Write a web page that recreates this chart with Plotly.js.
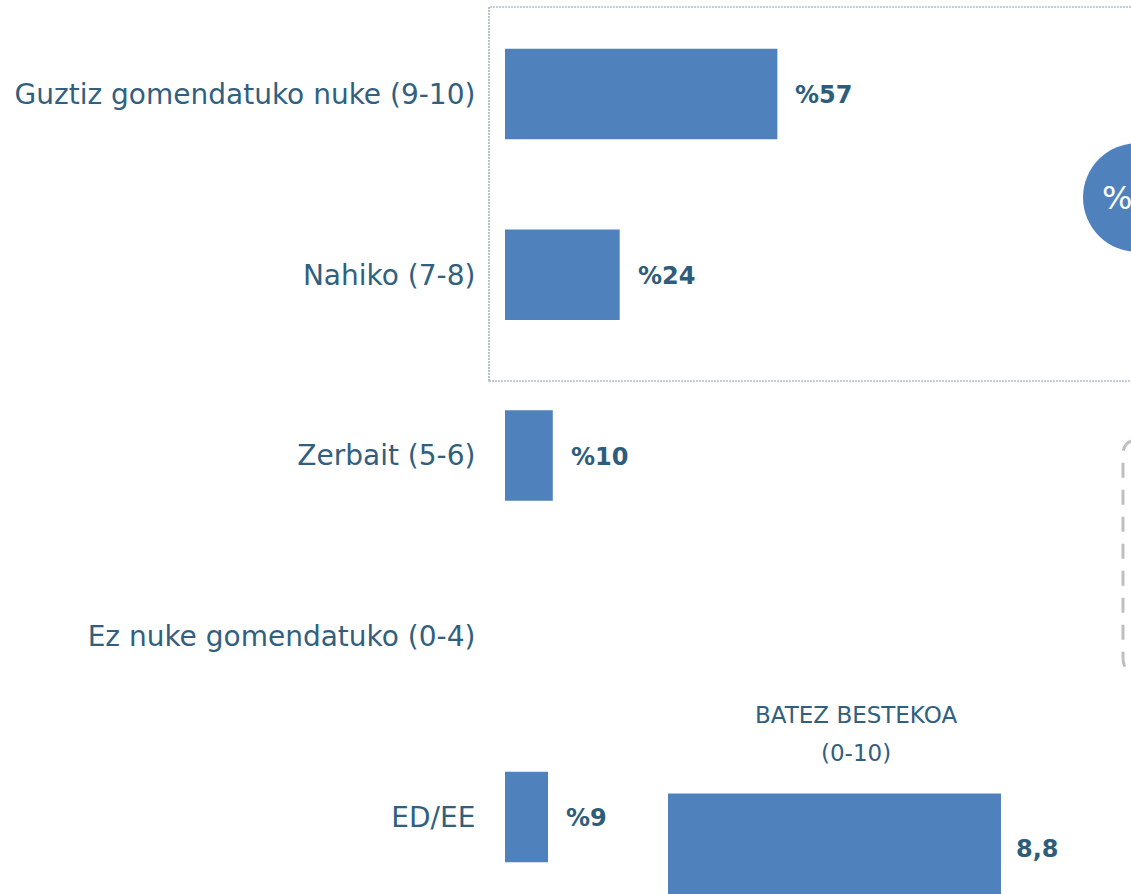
<!DOCTYPE html>
<html>
<head>
<meta charset="utf-8">
<script src="https://cdn.plot.ly/plotly-3.0.1.min.js"></script>
<style>html,body{margin:0;padding:0;background:#fff;overflow:hidden}#chart{width:1131px;height:894px}</style>
</head>
<body>
<div id="chart"></div>
<script>
const categories = ["Guztiz gomendatuko nuke (9-10)", "Nahiko (7-8)", "Zerbait (5-6)", "Ez nuke gomendatuko (0-4)", "ED/EE"];
const values = [57, 24, 10, 0, 9];
const valueLabels = ["%57", "%24", "%10", "", "%9"];
const meanCaption = ["BATEZ BESTEKOA", "(0-10)"];
const meanValue = [8.8];
const meanLabel = ["8,8"];
const topBoxLabel = "%81";

const BLUE = "#4F81BD";
const TEXT = "#31607F";
const VAL = "#2D5D7B";
const FONT = "DejaVu Sans, sans-serif";

const traces = [
  {
    type: "bar", orientation: "h",
    x: values, y: categories,
    marker: {color: BLUE},
    width: 0.5,
    hoverinfo: "skip",
    xaxis: "x", yaxis: "y"
  },
  {
    type: "bar", orientation: "h",
    x: meanValue, y: [0],
    marker: {color: BLUE},
    width: 0.5,
    hoverinfo: "skip",
    xaxis: "x2", yaxis: "y2"
  }
];

const annotations = [];
values.forEach((v, i) => {
  if (valueLabels[i]) {
    annotations.push({
      x: v, y: categories[i], xref: "x", yref: "y",
      text: valueLabels[i], showarrow: false,
      xanchor: "left", yanchor: "middle", xshift: 16, yshift: -1,
      font: {family: FONT, size: 24, color: VAL, weight: "bold"}
    });
  }
});
annotations.push({
  x: meanValue[0], y: 0, xref: "x2", yref: "y2",
  text: meanLabel[0], showarrow: false,
  xanchor: "left", yanchor: "middle", xshift: 13,
  font: {family: FONT, size: 24, color: VAL, weight: "bold"}
});
const captionY = [715, 753];
meanCaption.forEach((t, i) => {
  annotations.push({
    x: 856 / 1131, y: (894 - captionY[i]) / 894, xref: "paper", yref: "paper",
    text: t, showarrow: false,
    xanchor: "center", yanchor: "middle",
    font: {family: FONT, size: 23, color: TEXT}
  });
});
annotations.push({
  x: 1137.5 / 1131, y: (894 - 198) / 894, xref: "paper", yref: "paper",
  text: topBoxLabel, showarrow: false,
  xanchor: "center", yanchor: "middle",
  font: {family: FONT, size: 32, color: "#ffffff"}
});

const px = v => v / 1131;
const py = v => (894 - v) / 894;

const shapes = [
  {
    type: "rect", xref: "paper", yref: "paper",
    x0: px(489), x1: px(1160), y0: py(381), y1: py(7),
    line: {color: "#8A99AD", width: 1.2, dash: "2px,1px"},
    fillcolor: "rgba(0,0,0,0)", layer: "below"
  },
  {
    type: "circle", xref: "paper", yref: "paper",
    x0: px(1083), x1: px(1192), y0: py(252), y1: py(143),
    fillcolor: BLUE, line: {width: 0}, layer: "below"
  },
  {
    type: "path", xref: "paper", yref: "paper",
    path: `M ${px(1160)},${py(440)} L ${px(1138)},${py(440)} Q ${px(1123)},${py(440)} ${px(1123)},${py(455)} L ${px(1123)},${py(658)} Q ${px(1123)},${py(673)} ${px(1138)},${py(673)} L ${px(1160)},${py(673)}`,
    line: {color: "#BFBFBF", width: 3, dash: "15px,12px"}
  }
];

const layout = {
  width: 1131, height: 894,
  margin: {l: 0, r: 0, t: 0, b: 0},
  paper_bgcolor: "#ffffff", plot_bgcolor: "rgba(0,0,0,0)",
  showlegend: false,
  font: {family: FONT, color: TEXT},
  xaxis: {
    domain: [505 / 1131, 1], range: [0, 131],
    showgrid: false, zeroline: false, showline: false, showticklabels: false, fixedrange: true
  },
  yaxis: {
    type: "category", categoryorder: "array", categoryarray: categories,
    range: [4.426, -0.52],
    showgrid: false, zeroline: false, showline: false,
    ticks: "outside", ticklen: 23, tickcolor: "rgba(0,0,0,0)",
    tickfont: {family: FONT, size: 28, color: TEXT},
    automargin: false, fixedrange: true
  },
  xaxis2: {
    domain: [668 / 1131, (668 + 378.4) / 1131], range: [0, 10], anchor: "y2",
    showgrid: false, zeroline: false, showline: false, showticklabels: false, fixedrange: true
  },
  yaxis2: {
    domain: [0, 0.2], range: [-0.2, 0.6], anchor: "x2",
    showgrid: false, zeroline: false, showline: false, showticklabels: false, fixedrange: true
  },
  annotations: annotations,
  shapes: shapes
};

Plotly.newPlot("chart", traces, layout, {displayModeBar: false, staticPlot: true});
</script>
</body>
</html>
